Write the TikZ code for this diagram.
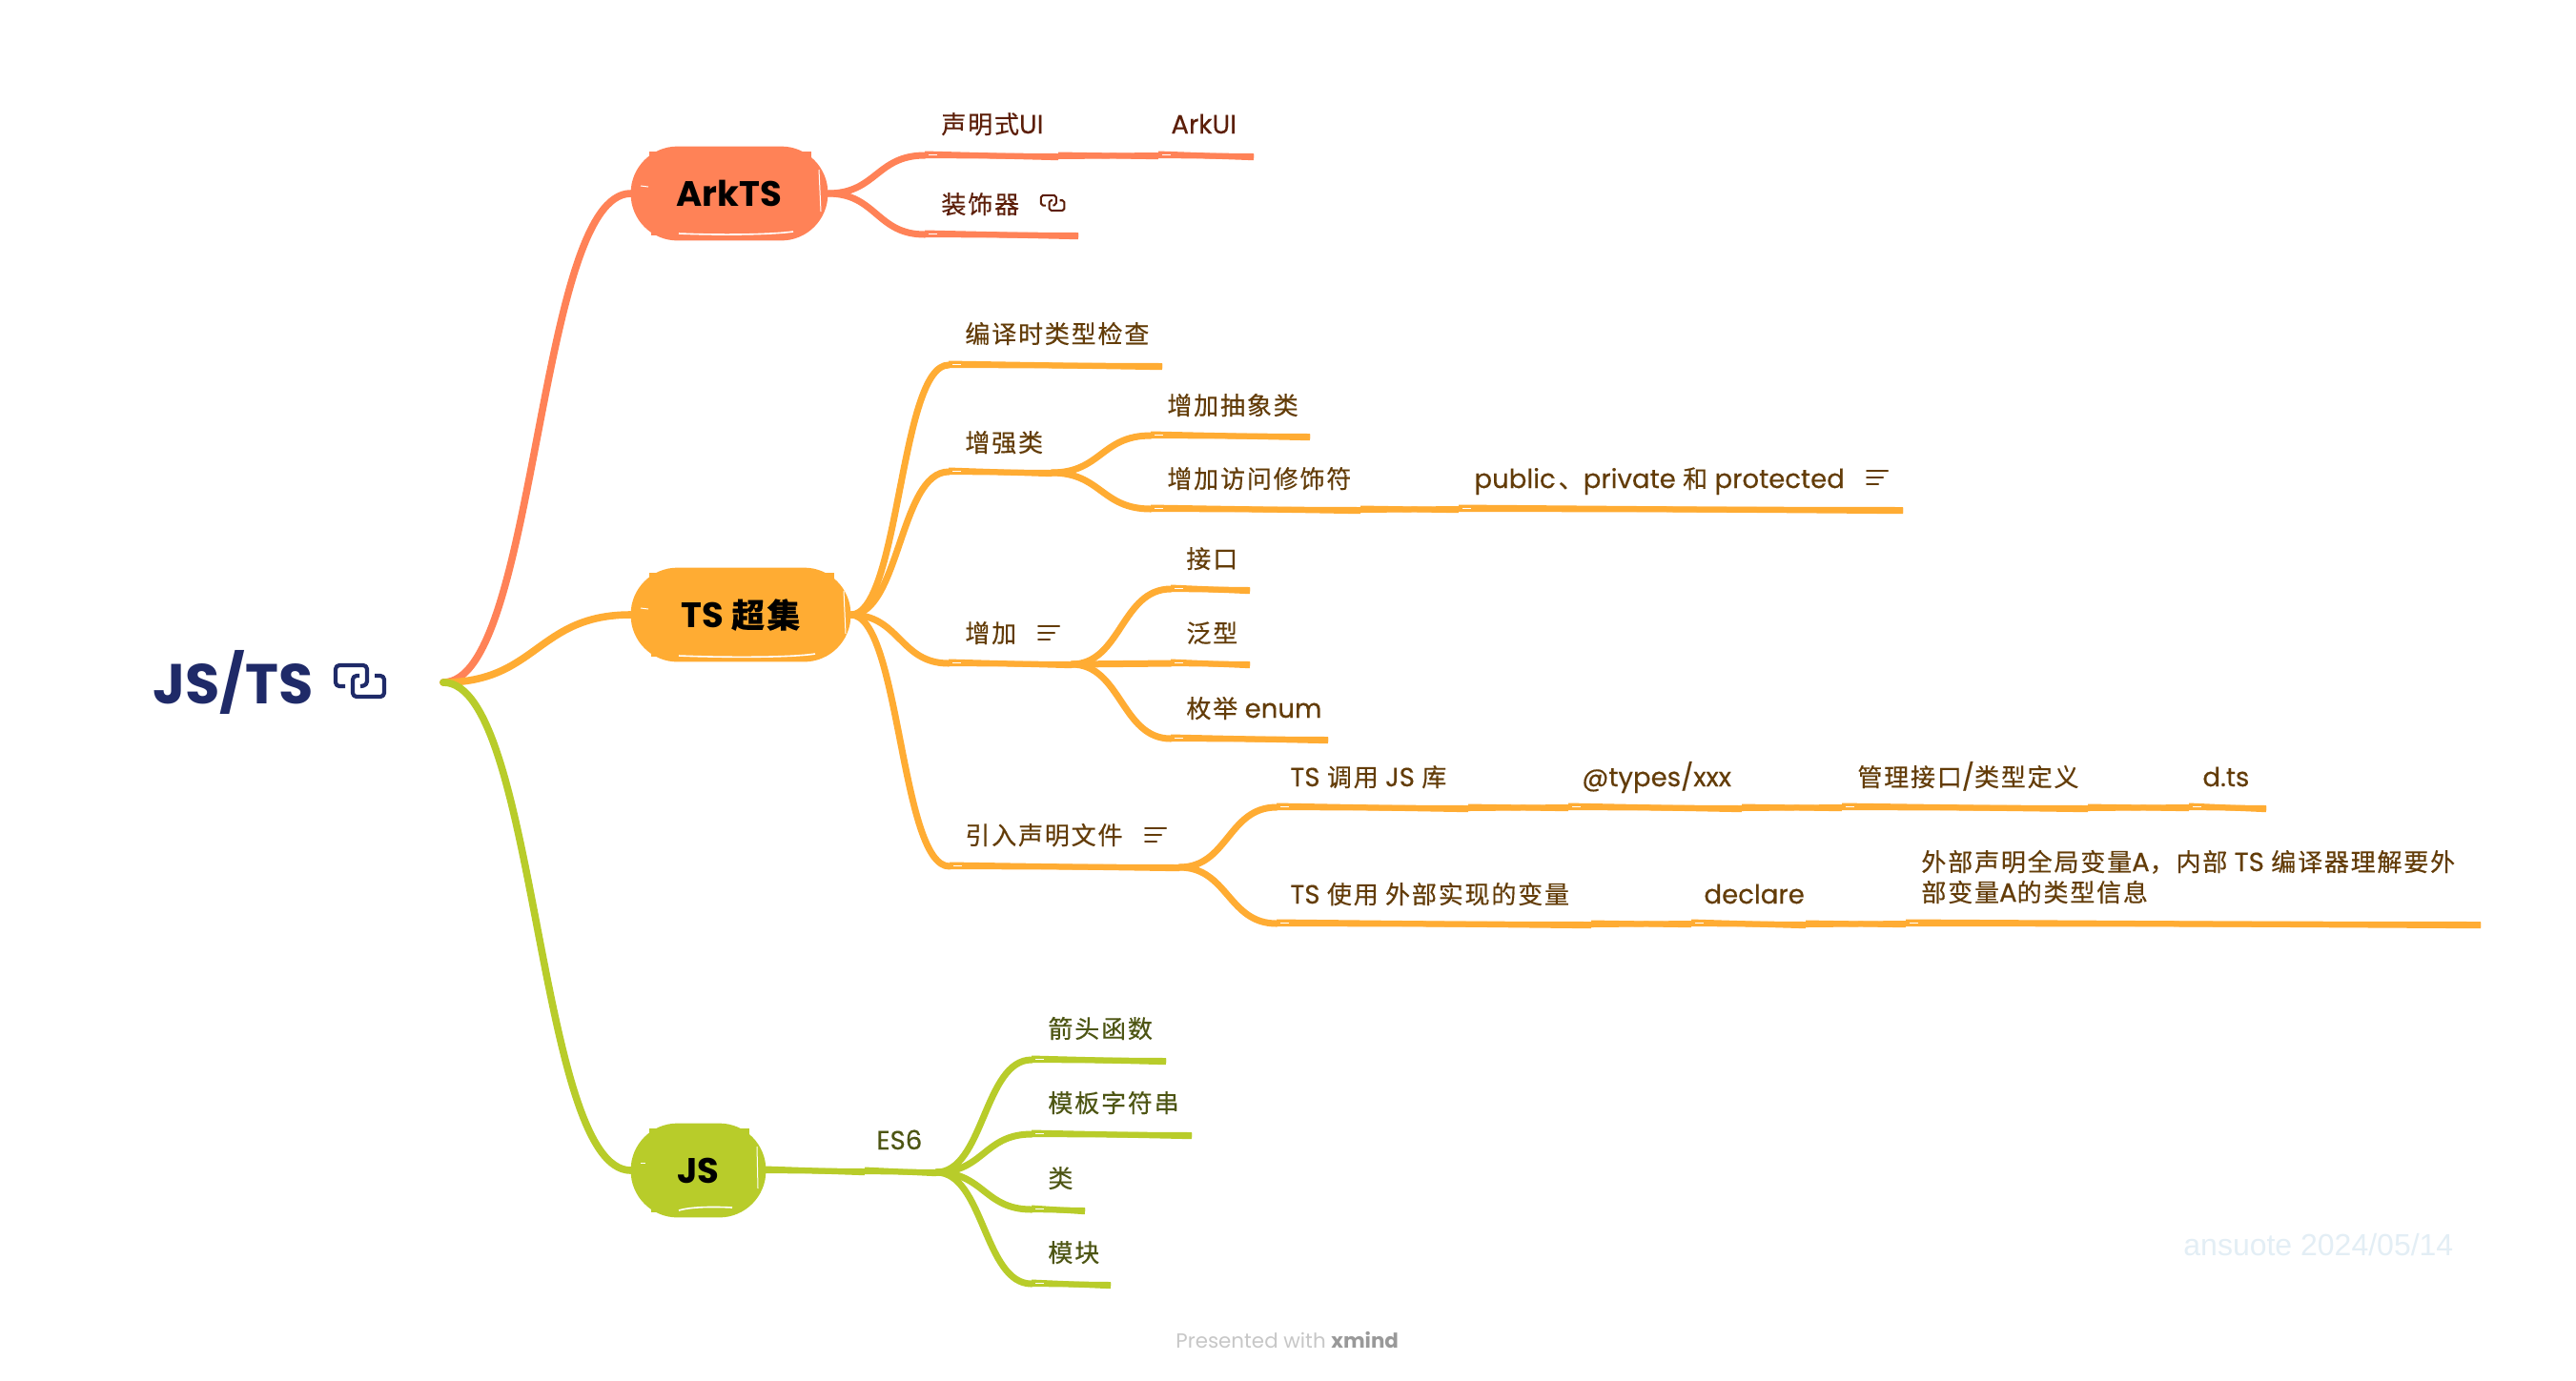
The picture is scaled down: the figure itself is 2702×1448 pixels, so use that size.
\documentclass[tikz,border=0pt]{standalone}
\usepackage{fontspec}
\usetikzlibrary{calc,backgrounds}
\setmainfont{Poppins}
\setsansfont{Liberation Sans}
\newfontfamily\tf[FakeBold=0.35]{Poppins}
\newfontfamily\cjk[LetterSpace=7,Scale=0.942,FakeBold=0.35]{Noto Sans CJK SC}
\newcommand\zh[1]{{\cjk #1}}
\definecolor{arkc}{HTML}{FF8257}
\definecolor{tsc}{HTML}{FFAC33}
\definecolor{jsc}{HTML}{B8CC2A}
\definecolor{arkt}{HTML}{5C1E08}
\definecolor{tst}{HTML}{633C08}
\definecolor{jst}{HTML}{4D5513}
\definecolor{rootc}{HTML}{1F2A68}
\definecolor{wmark}{HTML}{E3EEF5}
\tikzset{
  x=0.5pt,y=-0.5pt,
  topic/.style={anchor=west,inner sep=0pt,font=\fontsize{13.8}{16}\selectfont\tf,text height=9pt,text depth=3pt},
  maint/.style={inner sep=0pt,font=\fontsize{18.5}{22}\bfseries\selectfont,text=black},
  arktxt/.style={topic,text=arkt}, tstxt/.style={topic,text=tst}, jstxt/.style={topic,text=jst},
  arkl/.style={draw=arkc,line width=3pt}, tsl/.style={draw=tsc,line width=3pt}, jsl/.style={draw=jsc,line width=3pt},
  tick/.style={draw=white,line width=0.5pt},
  hi/.style={draw=white,line width=0.8pt},
  hj/.style={draw=white,line width=0.5pt},
  iconl/.style={line width=1pt,line cap=round}
}
% sketched underline
\newcommand\sg[3]{\draw[#3] (#1) -- (#2); \draw[#3] ([shift={(0,-1.5)}]#1) -- ([shift={(0,1.2)}]#2);}
\newcommand\ul[3]{\sg{#1}{#2}{#3}\draw[tick] ([shift={(4,-1)}]#1) -- ++(9,0);}
% mind-map S connector
\newcommand\conn[3]{\draw[#3,line width=3.5pt,line cap=round] let \p1=(#1),\p2=(#2) in (#1) .. controls ({.5*\x1+.5*\x2},\y1) and ({.5*\x1+.5*\x2},\y2) .. (#2);}
\newcommand\rootconn[3]{\draw[draw=#3,line width=3.8pt,line cap=round] let \p1=(#1),\p2=(#2) in (#1) .. controls ({.5*\x1+.5*\x2},\y1) and ({.5*\x1+.5*\x2},\y2) .. (#2);}
% blob behind a main topic
\newcommand\blob[2]{\begin{scope}[on background layer]
\fill[#2,rounded corners=24.5pt] (#1.north west) rectangle (#1.south east);
\fill[#2] ([shift={(19,5)}]#1.north west) rectangle ([shift={(50,18)}]#1.north west);
\fill[#2] ([shift={(-17,5)}]#1.north east) rectangle ([shift={(-50,18)}]#1.north east);
\fill[#2] ([shift={(21,-5)}]#1.south west) rectangle ([shift={(50,-18)}]#1.south west);
\fill[#2] ([shift={(-17,-12)}]#1.south east) rectangle ([shift={(-50,-20)}]#1.south east);
\end{scope}}
% icons
\newcommand\linkicon[3]{\begin{scope}[shift={(#1)},x=#2*0.5pt,y=-#2*0.5pt,rounded corners=#2*2pt,line width=#2*2.1pt,line join=round]
\draw[#3] (12,24) -- (2,24) -- (2,2) -- (35,2) -- (35,23) -- (28,24);
\draw[#3] (43,13) -- (53,13) -- (53,35) -- (20,35) -- (20,13) -- (27,13);
\end{scope}}
\newcommand\noteicon[2]{\begin{scope}[shift={(#1)}]
\draw[#2,iconl] (0,-7) -- (22,-7); \draw[#2,iconl] (0,0) -- (17,0); \draw[#2,iconl] (0,7) -- (12,7);
\end{scope}}
\begin{document}
\begin{tikzpicture}
\useasboundingbox (0,0) rectangle (2702,1448);
\begin{scope}[on background layer]
\fill[white] (0,0) rectangle (2702,1448);
\end{scope}

% ---- root
\node[anchor=west,inner sep=0pt,text=rootc,font=\fontsize{29.5}{32}\bfseries\selectfont] (root) at (160,716) {JS/TS};
\linkicon{350,696}{1}{rootc}
\coordinate (rootout) at (465,716);

% ---- main topics
\node[maint,minimum width=103pt,minimum height=49pt] (ark) at (765,203) {ArkTS};
\node[maint,minimum width=115pt,minimum height=49pt] (ts) at (777,645) {TS \zh{超集}};
\node[maint,minimum width=70.5pt,minimum height=49pt] (js) at (732.5,1228) {JS};
\blob{ark}{arkc}
\blob{ts}{tsc}
\blob{js}{jsc}

% sketch marks on main topics
\begin{scope}[on background layer]
\draw[hi] (712,245) .. controls (760,247) and (810,246) .. (832,243);
\draw[hi] (712,688) .. controls (760,690) and (830,690) .. (855,686);
\draw[hi] (712,1270) .. controls (725,1266) and (750,1266) .. (768,1267);
\draw[hj] (859,178) -- (861,222);
\draw[hj] (885,620) -- (887,665);
\draw[hj] (794,1203) -- (795,1247);
\draw[hj] (672,195) -- (680,196);
\draw[hj] (672,638) -- (680,639);
\draw[hj] (672,1220) -- (677,1220);
\end{scope}

\rootconn{rootout}{ark.west}{arkc}
\rootconn{rootout}{ts.west}{tsc}
\rootconn{rootout}{js.west}{jsc}

% ---- ArkTS branch
\node[arktxt] (a1) at (987,134) {\zh{声明式}UI};
\coordinate (a1s) at (970,163); \coordinate (a1e) at (1110,164);
\node[arktxt] (a2) at (1228,134) {ArkUI};
\coordinate (a2s) at (1215,163); \coordinate (a2e) at (1315,164);
\node[arktxt] (a3) at (987,218) {\zh{装饰器}};
\coordinate (a3s) at (970,246); \coordinate (a3e) at (1131,247);
\linkicon{1091,204}{0.48}{arkt}
\conn{ark.east}{a1s}{arkl}
\conn{ark.east}{a3s}{arkl}
\ul{a1s}{a1e}{arkl}
\sg{a1e}{a2s}{arkl}
\ul{a2s}{a2e}{arkl}
\ul{a3s}{a3e}{arkl}

% ---- TS branch, level 2
\node[tstxt] (b1) at (1012,354) {\zh{编译时类型检查}};
\coordinate (b1s) at (995,383); \coordinate (b1e) at (1219,384);
\node[tstxt] (b2) at (1012,468) {\zh{增强类}};
\coordinate (b2s) at (995,495); \coordinate (b2e) at (1103,496);
\node[tstxt] (b3) at (1012,668) {\zh{增加}};
\noteicon{1089,664}{tst}
\coordinate (b3s) at (995,696); \coordinate (b3e) at (1124,697);
\node[tstxt] (b4) at (1012,880) {\zh{引入声明文件}};
\noteicon{1201,876}{tst}
\coordinate (b4s) at (996,909); \coordinate (b4e) at (1237,910);
\conn{ts.east}{b1s}{tsl}
\conn{ts.east}{b2s}{tsl}
\conn{ts.east}{b3s}{tsl}
\conn{ts.east}{b4s}{tsl}
\ul{b1s}{b1e}{tsl}
\ul{b2s}{b2e}{tsl}
\ul{b3s}{b3e}{tsl}
\ul{b4s}{b4e}{tsl}

% ---- level 3 of "增强类"
\node[tstxt] (c1) at (1224,429) {\zh{增加抽象类}};
\coordinate (c1s) at (1207,457); \coordinate (c1e) at (1374,458);
\node[tstxt] (c2) at (1224,506) {\zh{增加访问修饰符}};
\coordinate (c2s) at (1207,534); \coordinate (c2e) at (1427,535);
\node[tstxt] (c3) at (1546,506) {public\kern1.5pt\zh{、}private \zh{和} protected};
\noteicon{1958,501}{tst}
\coordinate (c3s) at (1530,534); \coordinate (c3e) at (1996,535);
\conn{b2e}{c1s}{tsl}
\conn{b2e}{c2s}{tsl}
\ul{c1s}{c1e}{tsl}
\ul{c2s}{c2e}{tsl}
\sg{c2e}{c3s}{tsl}
\ul{c3s}{c3e}{tsl}

% ---- level 3 of "增加"
\node[tstxt] (d1) at (1244,590) {\zh{接口}};
\coordinate (d1s) at (1228,618); \coordinate (d1e) at (1311,619);
\node[tstxt] (d2) at (1244,668) {\zh{泛型}};
\coordinate (d2s) at (1228,696); \coordinate (d2e) at (1311,697);
\node[tstxt] (d3) at (1244,747) {\zh{枚举} enum};
\coordinate (d3s) at (1228,775); \coordinate (d3e) at (1393,776);
\conn{b3e}{d1s}{tsl}
\conn{b3e}{d2s}{tsl}
\conn{b3e}{d3s}{tsl}
\ul{d1s}{d1e}{tsl}
\ul{d2s}{d2e}{tsl}
\ul{d3s}{d3e}{tsl}

% ---- level 3 of "引入声明文件"
\node[tstxt] (e1) at (1353,819) {TS \zh{调用} JS \zh{库}};
\coordinate (e1s) at (1339,847); \coordinate (e1e) at (1540,848);
\node[tstxt] (e2) at (1659,819) {@types/xxx};
\coordinate (e2s) at (1645,847); \coordinate (e2e) at (1827,848);
\node[tstxt] (e3) at (1948,819) {\zh{管理接口}/\zh{类型定义}};
\coordinate (e3s) at (1932,847); \coordinate (e3e) at (2190,848);
\node[tstxt] (e4) at (2310,819) {d.ts};
\coordinate (e4s) at (2296,847); \coordinate (e4e) at (2377,848);
\conn{b4e}{e1s}{tsl}
\ul{e1s}{e1e}{tsl}
\sg{e1e}{e2s}{tsl}
\ul{e2s}{e2e}{tsl}
\sg{e2e}{e3s}{tsl}
\ul{e3s}{e3e}{tsl}
\sg{e3e}{e4s}{tsl}
\ul{e4s}{e4e}{tsl}

\node[tstxt] (f1) at (1353,942) {TS \zh{使用} \zh{外部实现的变量}};
\coordinate (f1s) at (1339,969); \coordinate (f1e) at (1669,970);
\node[tstxt] (f2) at (1787,942) {declare};
\coordinate (f2s) at (1774,969); \coordinate (f2e) at (1894,970);
\node[tstxt,align=left] (f3) at (2015,940) {\zh{外部声明全局变量}A\zh{，内部} TS \zh{编译器理解要外}\\\zh{部变量}A\zh{的类型信息}};
\coordinate (f3s) at (1999,969); \coordinate (f3e) at (2602,970);
\conn{b4e}{f1s}{tsl}
\ul{f1s}{f1e}{tsl}
\sg{f1e}{f2s}{tsl}
\ul{f2s}{f2e}{tsl}
\sg{f2e}{f3s}{tsl}
\ul{f3s}{f3e}{tsl}

% ---- JS branch
\node[jstxt] (g0) at (919,1200) {ES6};
\coordinate (g0s) at (803,1228); \coordinate (g0m) at (907,1229); \coordinate (g0e) at (982,1230);
\node[jstxt] (g1) at (1099,1083) {\zh{箭头函数}};
\coordinate (g1s) at (1082,1112); \coordinate (g1e) at (1223,1113);
\node[jstxt] (g2) at (1099,1161) {\zh{模板字符串}};
\coordinate (g2s) at (1082,1190); \coordinate (g2e) at (1250,1191);
\node[jstxt] (g3) at (1099,1240) {\zh{类}};
\coordinate (g3s) at (1082,1269); \coordinate (g3e) at (1138,1270);
\node[jstxt] (g4) at (1099,1318) {\zh{模块}};
\coordinate (g4s) at (1082,1347); \coordinate (g4e) at (1165,1348);
\sg{g0s}{g0m}{jsl}
\sg{g0m}{g0e}{jsl}
\conn{g0e}{g1s}{jsl}
\conn{g0e}{g2s}{jsl}
\conn{g0e}{g3s}{jsl}
\conn{g0e}{g4s}{jsl}
\ul{g1s}{g1e}{jsl}
\ul{g2s}{g2e}{jsl}
\ul{g3s}{g3e}{jsl}
\ul{g4s}{g4e}{jsl}

% ---- watermarks
\node[anchor=west,inner sep=0pt,text=wmark,font=\fontsize{16}{18}\selectfont\sffamily] (wm) at (2290,1306) {ansuote 2024/05/14};
\node[anchor=west,inner sep=0pt,text=black!22,font=\fontsize{10.7}{14}\selectfont] (pw) at (1233,1406) {Presented with \textbf{\textcolor{black!40}{xmind}}};
\end{tikzpicture}
\end{document}
